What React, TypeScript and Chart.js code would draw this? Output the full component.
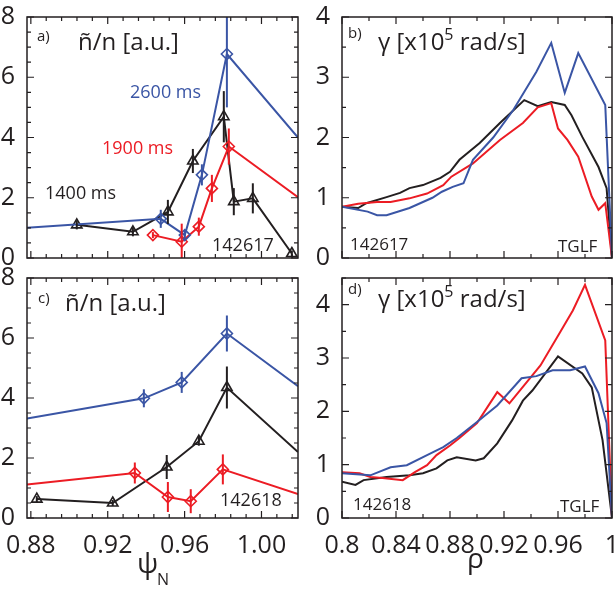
import React, { useEffect, useRef } from "react";
import { Chart, registerables } from "chart.js";

Chart.register(...registerables);

const BLUE = "#3a55a5";
const RED = "#ec1c24";
const BLACK = "#231f20";
const FONT = "'Open Sans', 'DejaVu Sans', sans-serif";

// ---------- tick labels ----------
const PSI_TICKS = [0.88, 0.92, 0.96, 1.0];
const RHO_TICKS = [0.8, 0.84, 0.88, 0.92, 0.96, 1.0];
const N_TICKS = [0, 2, 4, 6, 8];
const G_TICKS = [0, 1, 2, 3, 4];

// ---------- panel a: shot 142617, fluctuation amplitude ----------
const a2600Psi = [0.878, 0.9476, 0.9601, 0.969, 0.982, 1.019];
const a2600N = [1.0, 1.3, 0.76, 2.76, 6.77, 4.0];
const a2600Err = [0, 0.3, 0.15, 0.35, 1.77, 0];
const a1900Psi = [0.9435, 0.9585, 0.9674, 0.9742, 0.983, 1.019];
const a1900N = [0.76, 0.54, 1.04, 2.31, 3.7, 2.02];
const a1900Err = [0.1, 0.6, 0.3, 0.45, 0.6, 0];
const a1400Psi = [0.9039, 0.9331, 0.9513, 0.9643, 0.9804, 0.9856, 0.9955, 1.0158];
const a1400N = [1.1, 0.87, 1.53, 3.22, 4.69, 1.87, 1.98, 0.15];
const a1400Err = [0.15, 0.15, 0.4, 0.4, 0.85, 0.45, 0.5, 0.1];

// ---------- panel c: shot 142618, fluctuation amplitude ----------
const c2600Psi = [0.878, 0.9388, 0.9585, 0.982, 1.019];
const c2600N = [3.32, 3.99, 4.52, 6.15, 4.39];
const c2600Err = [0, 0.3, 0.35, 0.6, 0];
const c1900Psi = [0.878, 0.9341, 0.9513, 0.9632, 0.9799, 1.019];
const c1900N = [1.12, 1.5, 0.7, 0.56, 1.62, 0.8];
const c1900Err = [0, 0.35, 0.5, 0.4, 0.5, 0];
const c1400Psi = [0.8831, 0.9226, 0.9507, 0.9674, 0.982, 1.019];
const c1400N = [0.63, 0.5, 1.7, 2.56, 4.35, 2.2];
const c1400Err = [0.1, 0.1, 0.4, 0.15, 0.7, 0];

// ---------- panel b: shot 142617, TGLF growth rate ----------
const b2600Rho = [0.8, 0.819, 0.826, 0.833, 0.85, 0.867, 0.874, 0.882, 0.89, 0.897, 0.912, 0.927, 0.944, 0.955, 0.965, 0.975, 0.995, 1.0];
const b2600G = [0.85, 0.77, 0.71, 0.71, 0.83, 1.0, 1.1, 1.18, 1.24, 1.63, 2.0, 2.46, 3.09, 3.57, 2.74, 3.4, 2.54, 0];
const b1900Rho = [0.8, 0.812, 0.826, 0.836, 0.85, 0.863, 0.875, 0.881, 0.897, 0.917, 0.934, 0.945, 0.955, 0.96, 0.967, 0.975, 0.985, 0.99, 0.995, 1.0];
const b1900G = [0.85, 0.9, 0.93, 0.93, 0.99, 1.07, 1.21, 1.35, 1.57, 1.96, 2.24, 2.5, 2.57, 2.15, 1.96, 1.68, 1.02, 0.8, 0.91, 0];
const b1400Rho = [0.8, 0.812, 0.818, 0.833, 0.843, 0.85, 0.86, 0.873, 0.88, 0.887, 0.902, 0.917, 0.935, 0.945, 0.955, 0.965, 0.97, 0.978, 0.99, 0.996, 1.0];
const b1400G = [0.85, 0.83, 0.91, 1.01, 1.08, 1.16, 1.21, 1.33, 1.43, 1.63, 1.91, 2.24, 2.62, 2.52, 2.59, 2.54, 2.37, 2.01, 1.51, 1.16, 0];

// ---------- panel d: shot 142618, TGLF growth rate ----------
const d2600Rho = [0.8, 0.821, 0.836, 0.848, 0.863, 0.875, 0.885, 0.9, 0.915, 0.933, 0.944, 0.956, 0.969, 0.98, 0.99, 0.996, 1.0];
const d2600G = [0.84, 0.8, 0.95, 0.99, 1.18, 1.33, 1.5, 1.8, 2.11, 2.62, 2.66, 2.77, 2.77, 2.84, 2.34, 1.78, 0];
const d1900Rho = [0.8, 0.813, 0.821, 0.83, 0.845, 0.854, 0.863, 0.87, 0.88, 0.887, 0.9, 0.915, 0.924, 0.947, 0.961, 0.971, 0.98, 0.995, 1.0];
const d1900G = [0.86, 0.84, 0.77, 0.75, 0.71, 0.86, 0.99, 1.18, 1.36, 1.5, 1.78, 2.36, 2.15, 2.86, 3.46, 3.89, 4.37, 3.33, 0];
const d1400Rho = [0.8, 0.81, 0.816, 0.833, 0.85, 0.86, 0.87, 0.878, 0.885, 0.899, 0.905, 0.915, 0.926, 0.934, 0.941, 0.96, 0.978, 0.985, 0.993, 1.0];
const d1400G = [0.68, 0.62, 0.71, 0.77, 0.8, 0.84, 0.93, 1.08, 1.14, 1.08, 1.12, 1.4, 1.83, 2.2, 2.39, 3.03, 2.71, 2.45, 1.46, 0];

type Series = { x: number[]; y: number[]; err?: number[]; color: string; marker?: string };
type Run = { t: string; size: number; dy?: number };
type TextItem = { x: number; y: number; color: string; runs: Run[] };

type PanelSpec = {
  left: number; top: number; width: number; height: number;
  padRight: number; yw: number; xh: number;
  xmin: number; xmax: number; ymin: number; ymax: number;
  xTicks: number[]; yTicks: number[]; xMinor: number; yMinor: number;
  showX: boolean; xFmt: (v: number) => string;
  series: Series[]; texts: TextItem[];
};

const framePlugin = {
  id: "frame",
  afterDatasetsDraw(chart: any, _args: any, opts: any) {
    const { ctx, chartArea: a, scales } = chart;
    const xs = scales.x, ys = scales.y;
    // error bars
    ctx.save();
    ctx.beginPath();
    ctx.rect(a.left, a.top, a.right - a.left, a.bottom - a.top);
    ctx.clip();
    chart.data.datasets.forEach((ds: any) => {
      if (!ds.errors) return;
      ctx.strokeStyle = ds.borderColor;
      ctx.lineWidth = 2;
      ds.data.forEach((p: any, i: number) => {
        const e = ds.errors[i];
        if (!e) return;
        const px = xs.getPixelForValue(p.x);
        ctx.beginPath();
        ctx.moveTo(px, ys.getPixelForValue(p.y + e));
        ctx.lineTo(px, ys.getPixelForValue(p.y - e));
        ctx.stroke();
      });
    });
    ctx.restore();
    // frame
    ctx.save();
    ctx.strokeStyle = BLACK;
    ctx.lineWidth = 1.5;
    ctx.strokeRect(a.left, a.top, a.right - a.left, a.bottom - a.top);
    ctx.lineWidth = 1.2;
    const major = 7, minor = 4;
    const eps = 1e-6;
    const isMajor = (v: number, arr: number[]) => arr.some((t) => Math.abs(t - v) < eps);
    // x ticks
    const x0 = Math.ceil((xs.min - eps) / opts.xMinor) * opts.xMinor;
    for (let v = x0; v <= xs.max + eps; v += opts.xMinor) {
      const px = xs.getPixelForValue(v);
      const len = isMajor(v, opts.xTicks) ? major : minor;
      ctx.beginPath();
      ctx.moveTo(px, a.bottom); ctx.lineTo(px, a.bottom - len);
      ctx.moveTo(px, a.top); ctx.lineTo(px, a.top + len);
      ctx.stroke();
    }
    const y0 = Math.ceil((ys.min - eps) / opts.yMinor) * opts.yMinor;
    for (let v = y0; v <= ys.max + eps; v += opts.yMinor) {
      const py = ys.getPixelForValue(v);
      const len = isMajor(v, opts.yTicks) ? major : minor;
      ctx.beginPath();
      ctx.moveTo(a.left, py); ctx.lineTo(a.left + len, py);
      ctx.moveTo(a.right, py); ctx.lineTo(a.right - len, py);
      ctx.stroke();
    }
    ctx.restore();
  },
  afterDraw(chart: any, _args: any, opts: any) {
    const { ctx } = chart;
    ctx.save();
    ctx.textBaseline = "alphabetic";
    ctx.textAlign = "left";
    (opts.texts || []).forEach((it: TextItem) => {
      let x = it.x;
      ctx.fillStyle = it.color;
      it.runs.forEach((r) => {
        ctx.font = `${r.size}px ${FONT}`;
        ctx.fillText(r.t, x, it.y + (r.dy || 0));
        x += ctx.measureText(r.t).width;
      });
    });
    ctx.restore();
  },
};

function makeConfig(p: PanelSpec): any {
  return {
    type: "scatter",
    data: {
      datasets: p.series.map((s) => ({
        data: s.x.map((x, i) => ({ x, y: s.y[i] })),
        showLine: true,
        borderColor: s.color,
        backgroundColor: "rgba(0,0,0,0)",
        borderWidth: 2,
        tension: 0,
        pointStyle: s.marker || "circle",
        pointRadius: s.marker
          ? s.x.map((x) => (x <= p.xmin + 1e-6 || x >= p.xmax - 1e-6 ? 0 : s.marker === "triangle" ? 6 : 5.5))
          : 0,
        pointBorderWidth: 1.6,
        pointBorderColor: s.color,
        pointBackgroundColor: "rgba(0,0,0,0)",
        errors: s.err,
      })),
    },
    options: {
      responsive: false,
      animation: false,
      devicePixelRatio: 1,
      events: [],
      layout: { padding: { top: 17, right: p.padRight, left: 0, bottom: 0 } },
      plugins: {
        legend: { display: false },
        tooltip: { enabled: false },
        frame: { xMinor: p.xMinor, yMinor: p.yMinor, xTicks: p.xTicks, yTicks: p.yTicks, texts: p.texts },
      },
      scales: {
        x: {
          type: "linear",
          min: p.xmin,
          max: p.xmax,
          grid: { display: false },
          border: { display: false },
          afterBuildTicks: (s: any) => { s.ticks = p.xTicks.map((v) => ({ value: v })); },
          afterFit: (s: any) => { s.height = p.xh; s.paddingLeft = 0; s.paddingRight = 0; },
          ticks: {
            display: p.showX,
            autoSkip: false,
            maxRotation: 0,
            padding: 5,
            color: BLACK,
            font: { family: FONT, size: 25 },
            callback: (v: any) => p.xFmt(Number(v)),
          },
        },
        y: {
          type: "linear",
          min: p.ymin,
          max: p.ymax,
          grid: { display: false },
          border: { display: false },
          afterBuildTicks: (s: any) => { s.ticks = p.yTicks.map((v) => ({ value: v })); },
          afterFit: (s: any) => { s.width = p.yw; s.paddingTop = 0; s.paddingBottom = 0; },
          ticks: {
            autoSkip: false,
            padding: 4,
            color: BLACK,
            font: { family: FONT, size: 25 },
            callback: (v: any) => String(v),
          },
        },
      },
    },
    plugins: [framePlugin],
  };
}

function Panel({ spec }: { spec: PanelSpec }) {
  const ref = useRef<HTMLCanvasElement>(null);
  useEffect(() => {
    const chart = new Chart(ref.current as HTMLCanvasElement, makeConfig(spec));
    return () => chart.destroy();
  }, []);
  return (
    <canvas
      ref={ref}
      width={spec.width}
      height={spec.height}
      style={{ position: "absolute", left: spec.left, top: spec.top, width: spec.width, height: spec.height }}
    />
  );
}

const psiFmt = (v: number) => v.toFixed(2);
const rhoFmt = (v: number) => String(v);

const gammaTitle = (x: number, y: number): TextItem => ({
  x, y, color: BLACK,
  runs: [
    { t: "γ [x10", size: 24 },
    { t: "5", size: 16, dy: -10 },
    { t: " rad/s]", size: 24 },
  ],
});

const panelA: PanelSpec = {
  left: 0, top: 0, width: 310, height: 275, padRight: 12, yw: 27, xh: 17,
  xmin: 0.878, xmax: 1.019, ymin: 0, ymax: 8,
  xTicks: PSI_TICKS, yTicks: N_TICKS, xMinor: 0.008, yMinor: 0.5,
  showX: false, xFmt: psiFmt,
  series: [
    { x: a2600Psi, y: a2600N, err: a2600Err, color: BLUE, marker: "rectRot" },
    { x: a1900Psi, y: a1900N, err: a1900Err, color: RED, marker: "rectRot" },
    { x: a1400Psi, y: a1400N, err: a1400Err, color: BLACK, marker: "triangle" },
  ],
  texts: [
    { x: 37, y: 41, color: BLACK, runs: [{ t: "a)", size: 15 }] },
    { x: 78, y: 50, color: BLACK, runs: [{ t: "ñ/n [a.u.]", size: 24 }] },
    { x: 130, y: 98, color: BLUE, runs: [{ t: "2600 ms", size: 18 }] },
    { x: 102, y: 154, color: RED, runs: [{ t: "1900 ms", size: 18 }] },
    { x: 45, y: 199, color: BLACK, runs: [{ t: "1400 ms", size: 18 }] },
    { x: 212, y: 251, color: BLACK, runs: [{ t: "142617", size: 18 }] },
  ],
};

const panelC: PanelSpec = {
  left: 0, top: 261, width: 310, height: 329, padRight: 12, yw: 27, xh: 72,
  xmin: 0.878, xmax: 1.019, ymin: 0, ymax: 8,
  xTicks: PSI_TICKS, yTicks: N_TICKS, xMinor: 0.008, yMinor: 0.5,
  showX: true, xFmt: psiFmt,
  series: [
    { x: c2600Psi, y: c2600N, err: c2600Err, color: BLUE, marker: "rectRot" },
    { x: c1900Psi, y: c1900N, err: c1900Err, color: RED, marker: "rectRot" },
    { x: c1400Psi, y: c1400N, err: c1400Err, color: BLACK, marker: "triangle" },
  ],
  texts: [
    { x: 38, y: 42, color: BLACK, runs: [{ t: "c)", size: 15 }] },
    { x: 65, y: 50, color: BLACK, runs: [{ t: "ñ/n [a.u.]", size: 24 }] },
    { x: 220, y: 245, color: BLACK, runs: [{ t: "142618", size: 18 }] },
    { x: 137, y: 312, color: BLACK, runs: [{ t: "ψ", size: 28 }] },
    { x: 157, y: 324, color: BLACK, runs: [{ t: "N", size: 16 }] },
  ],
};

const panelB: PanelSpec = {
  left: 310, top: 0, width: 304, height: 275, padRight: 2, yw: 32, xh: 17,
  xmin: 0.8, xmax: 1.0, ymin: 0, ymax: 4,
  xTicks: RHO_TICKS, yTicks: G_TICKS, xMinor: 0.02, yMinor: 0.5,
  showX: false, xFmt: rhoFmt,
  series: [
    { x: b2600Rho, y: b2600G, color: BLUE },
    { x: b1900Rho, y: b1900G, color: RED },
    { x: b1400Rho, y: b1400G, color: BLACK },
  ],
  texts: [
    { x: 38, y: 38, color: BLACK, runs: [{ t: "b)", size: 15 }] },
    gammaTitle(68, 50),
    { x: 40, y: 250, color: BLACK, runs: [{ t: "142617", size: 17 }] },
    { x: 248, y: 252, color: BLACK, runs: [{ t: "TGLF", size: 17 }] },
  ],
};

const panelD: PanelSpec = {
  left: 310, top: 261, width: 304, height: 329, padRight: 2, yw: 32, xh: 72,
  xmin: 0.8, xmax: 1.0, ymin: 0, ymax: 4.5,
  xTicks: RHO_TICKS, yTicks: G_TICKS, xMinor: 0.02, yMinor: 0.5,
  showX: true, xFmt: rhoFmt,
  series: [
    { x: d2600Rho, y: d2600G, color: BLUE },
    { x: d1900Rho, y: d1900G, color: RED },
    { x: d1400Rho, y: d1400G, color: BLACK },
  ],
  texts: [
    { x: 38, y: 33, color: BLACK, runs: [{ t: "d)", size: 15 }] },
    gammaTitle(68, 46),
    { x: 43, y: 249, color: BLACK, runs: [{ t: "142618", size: 17 }] },
    { x: 250, y: 251, color: BLACK, runs: [{ t: "TGLF", size: 17 }] },
    { x: 157, y: 307, color: BLACK, runs: [{ t: "ρ", size: 28 }] },
  ],
};

export default function App() {
  return (
    <div style={{ position: "absolute", left: 0, top: 0, width: 614, height: 590, background: "#fff", overflow: "hidden" }}>
      <Panel spec={panelA} />
      <Panel spec={panelB} />
      <Panel spec={panelC} />
      <Panel spec={panelD} />
    </div>
  );
}
